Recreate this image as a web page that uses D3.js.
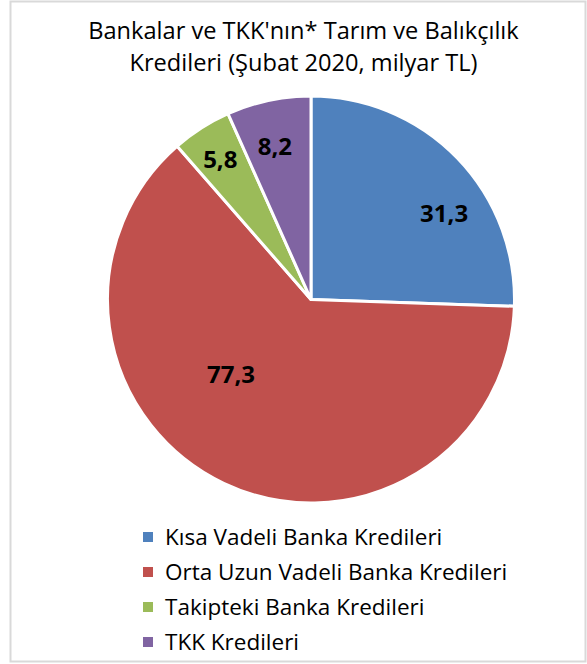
<!DOCTYPE html>
<html>
<head>
<meta charset="utf-8">
<script src="https://cdn.jsdelivr.net/npm/d3@7"></script>
<style>
  body { margin: 0; background: #fff; }
  svg { display: block; }
  text { font-family: "Open Sans", "Noto Sans", sans-serif; }
</style>
</head>
<body>
<div id="chart"></div>
<script>
// data
var categories = ["Kısa Vadeli Banka Kredileri", "Orta Uzun Vadeli Banka Kredileri", "Takipteki Banka Kredileri", "TKK Kredileri"]
var values = [31.3, 77.3, 5.8, 8.2]
var valueLabels = ["31,3", "77,3", "5,8", "8,2"]
var colors = ["#4F81BD", "#C0504D", "#9BBB59", "#8064A2"]
var titleLines = ["Bankalar ve TKK'nın* Tarım ve Balıkçılık", "Kredileri (Şubat 2020, milyar TL)"]

// where each label sits inside its slice: [share of slice angle, share of radius]
var labelPlace = [[0.62, 0.78], [0.594, 0.54], [0.48, 0.82], [0.45, 0.775]]

var width = 587
    height = 664
    cx = 311
    cy = 299.5
    radius = 203.5

var svg = d3.select("#chart")
  .append("svg")
    .attr("width", width)
    .attr("height", height)

// outer frame
svg.append("rect")
  .attr("x", 10.5)
  .attr("y", 1.5)
  .attr("width", 575)
  .attr("height", 660)
  .attr("fill", "#fff")
  .attr("stroke", "#d9d9d9")
  .attr("stroke-width", 2)

// title
svg.append("text")
  .attr("x", 303)
  .attr("text-anchor", "middle")
  .style("font-size", "23.6px")
  .attr("fill", "#000")
  .selectAll("tspan")
  .data(titleLines)
  .enter()
  .append("tspan")
    .attr("x", 303.5)
    .attr("y", function(d, i) { return 39 + i * 31.5 })
    .text(function(d) { return d })

var g = svg.append("g")
  .attr("transform", "translate(" + cx + "," + cy + ")")

var pie = d3.pie().sort(null).value(function(d) { return d })
var arcs = pie(values)

var arcGen = d3.arc().innerRadius(0).outerRadius(radius)

g.selectAll("path")
  .data(arcs)
  .enter()
  .append("path")
    .attr("d", arcGen)
    .attr("fill", function(d, i) { return colors[i] })
    .attr("stroke", "#fff")
    .attr("stroke-width", 3)
    .attr("stroke-linejoin", "round")

// value labels
g.selectAll("text.val")
  .data(arcs)
  .enter()
  .append("text")
    .attr("class", "val")
    .attr("transform", function(d, i) {
      var a = d.startAngle + (d.endAngle - d.startAngle) * labelPlace[i][0]
      var r = radius * labelPlace[i][1]
      return "translate(" + (r * Math.sin(a)) + "," + (-r * Math.cos(a)) + ")"
    })
    .attr("text-anchor", "middle")
    .attr("dy", "0.36em")
    .style("font-size", "24px")
    .style("font-weight", "bold")
    .attr("fill", "#000")
    .text(function(d, i) { return valueLabels[i] })

// legend
var legend = svg.append("g")
  .selectAll("g")
  .data(categories)
  .enter()
  .append("g")
    .attr("transform", function(d, i) { return "translate(143," + (537 + i * 35) + ")" })

legend.append("rect")
  .attr("x", 0)
  .attr("y", -5)
  .attr("width", 10)
  .attr("height", 10)
  .attr("fill", function(d, i) { return colors[i] })

legend.append("text")
  .attr("x", 22)
  .attr("dy", "0.36em")
  .style("font-size", "22.5px")
  .attr("fill", "#000")
  .text(function(d) { return d })
</script>
</body>
</html>
